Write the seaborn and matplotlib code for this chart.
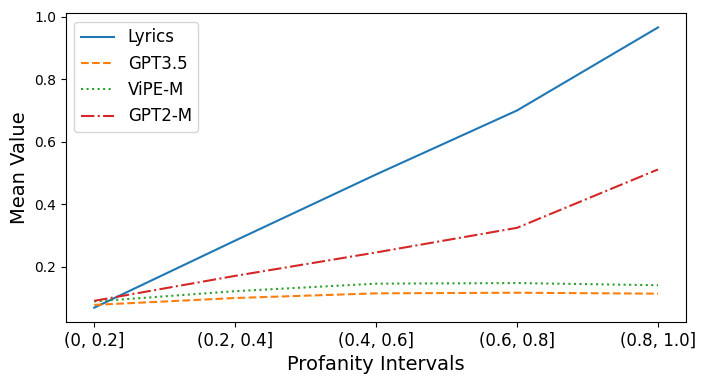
"""
Mean value per profanity interval for lyrics and generated text models.
"""

import matplotlib
matplotlib.use("Agg")
import matplotlib.pyplot as plt
import seaborn as sns

intervals = ["(0, 0.2]", "(0.2, 0.4]", "(0.4, 0.6]", "(0.6, 0.8]", "(0.8, 1.0]"]
lyrics = [0.068, 0.283, 0.495, 0.700, 0.966]
gpt35 = [0.077, 0.099, 0.114, 0.116, 0.113]
vipe_m = [0.088, 0.121, 0.145, 0.147, 0.140]
gpt2_m = [0.090, 0.170, 0.245, 0.324, 0.511]

series = [
    ("Lyrics", lyrics, "-", "#1f77b4"),
    ("GPT3.5", gpt35, "--", "#ff7f0e"),
    ("ViPE-M", vipe_m, ":", "#2ca02c"),
    ("GPT2-M", gpt2_m, "-.", "#d62728"),
]

fig, ax = plt.subplots(figsize=(7.06, 3.83), dpi=100)

for name, vals, ls, col in series:
    sns.lineplot(x=intervals, y=vals, label=name, linestyle=ls, color=col, ax=ax)

ax.set_xlabel("Profanity Intervals", fontsize=14)
ax.set_ylabel("Mean Value", fontsize=14)
ax.tick_params(axis="x", labelsize=12)
ax.tick_params(axis="y", labelsize=10)
ax.set_yticks([0.2, 0.4, 0.6, 0.8, 1.0])
ax.legend(loc="upper left", fontsize=12)

fig.subplots_adjust(left=0.0935, right=0.972, bottom=0.160, top=0.965)
fig.savefig("out.png", dpi=100)
